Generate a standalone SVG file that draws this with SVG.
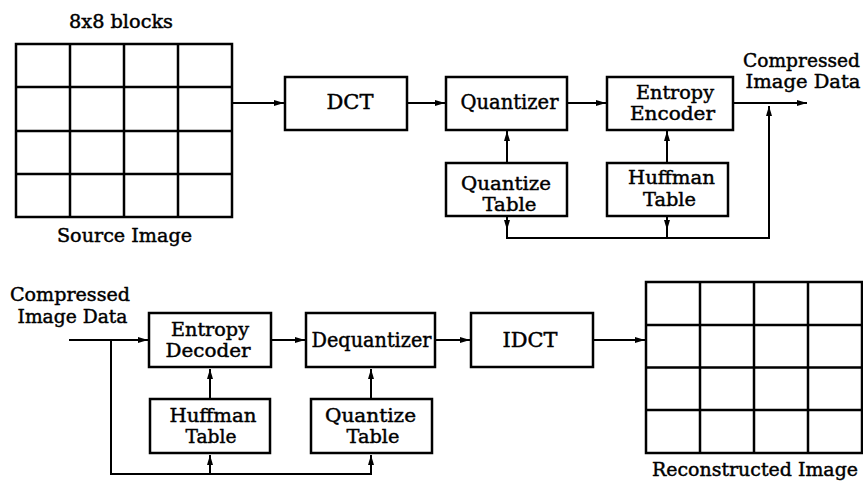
<svg xmlns="http://www.w3.org/2000/svg" width="863" height="481" viewBox="0 0 863 481">
  <style>
    .box { fill: #fff; stroke: #000; stroke-width: 2.5; }
    .grid { fill: none; stroke: #000; stroke-width: 2.5; }
    .wire { fill: none; stroke: #000; stroke-width: 2; }
    .arr { marker-end: url(#head); }
    text { font-family: "DejaVu Serif", "Liberation Serif", serif; font-size: 19px; fill: #000; stroke: #000; stroke-width: 0.45; text-anchor: middle; }
    .big { font-size: 20.5px; }
  </style>
  <defs>
    <marker id="head" markerUnits="userSpaceOnUse" markerWidth="10" markerHeight="6" refX="10" refY="3" orient="auto">
      <path d="M0,0 L10,3 L0,6 z" fill="#000"/>
    </marker>
  </defs>
  <rect width="863" height="481" fill="#fff"/>

  <!-- Compression pipeline -->
  <g id="source-image">
    <rect class="grid" x="16" y="44" width="216" height="173"/>
    <path class="grid" d="M70,44 V217 M124,44 V217 M178,44 V217 M16,87 H232 M16,131 H232 M16,174 H232"/>
    <text x="121" y="28" textLength="104" lengthAdjust="spacingAndGlyphs">8x8 blocks</text>
    <text x="124.5" y="242" textLength="135" lengthAdjust="spacingAndGlyphs">Source Image</text>
  </g>
  <g id="dct">
    <rect class="box" x="285" y="77" width="122" height="53"/>
    <text class="big" x="350" y="109" textLength="47" lengthAdjust="spacingAndGlyphs">DCT</text>
  </g>
  <g id="quantizer">
    <rect class="box" x="446" y="77" width="121" height="53"/>
    <text class="big" x="509.5" y="109" textLength="98" lengthAdjust="spacingAndGlyphs">Quantizer</text>
  </g>
  <g id="entropy-encoder">
    <rect class="box" x="607" y="77" width="126" height="53"/>
    <text x="675" y="99" textLength="78" lengthAdjust="spacingAndGlyphs">Entropy</text>
    <text x="672.5" y="120" textLength="85" lengthAdjust="spacingAndGlyphs">Encoder</text>
  </g>
  <g id="quantize-table-enc">
    <rect class="box" x="446" y="163" width="121" height="53"/>
    <text x="506" y="190" textLength="90" lengthAdjust="spacingAndGlyphs">Quantize</text>
    <text x="509.5" y="210.5" textLength="54" lengthAdjust="spacingAndGlyphs">Table</text>
  </g>
  <g id="huffman-table-enc">
    <rect class="box" x="607" y="163" width="121" height="53"/>
    <text x="671.5" y="184" textLength="87" lengthAdjust="spacingAndGlyphs">Huffman</text>
    <text x="669.5" y="205.5" textLength="53" lengthAdjust="spacingAndGlyphs">Table</text>
  </g>
  <g id="compressed-out">
    <text x="801.5" y="67" textLength="117" lengthAdjust="spacingAndGlyphs">Compressed</text>
    <text x="803" y="88" textLength="115" lengthAdjust="spacingAndGlyphs">Image Data</text>
  </g>

  <!-- Decompression pipeline -->
  <g id="compressed-in">
    <text x="70" y="300.5" textLength="120" lengthAdjust="spacingAndGlyphs">Compressed</text>
    <text x="72.5" y="323" textLength="110" lengthAdjust="spacingAndGlyphs">Image Data</text>
  </g>
  <g id="entropy-decoder">
    <rect class="box" x="149" y="313" width="122" height="54"/>
    <text x="210" y="336" textLength="78" lengthAdjust="spacingAndGlyphs">Entropy</text>
    <text x="208" y="356.5" textLength="85" lengthAdjust="spacingAndGlyphs">Decoder</text>
  </g>
  <g id="dequantizer">
    <rect class="box" x="306" y="313" width="129" height="54"/>
    <text class="big" x="371.5" y="347" textLength="120" lengthAdjust="spacingAndGlyphs">Dequantizer</text>
  </g>
  <g id="idct">
    <rect class="box" x="471" y="313" width="122" height="54"/>
    <text class="big" x="530" y="347" textLength="55" lengthAdjust="spacingAndGlyphs">IDCT</text>
  </g>
  <g id="huffman-table-dec">
    <rect class="box" x="150" y="399" width="120" height="54"/>
    <text x="213" y="421.5" textLength="87" lengthAdjust="spacingAndGlyphs">Huffman</text>
    <text x="211" y="442.5" textLength="51" lengthAdjust="spacingAndGlyphs">Table</text>
  </g>
  <g id="quantize-table-dec">
    <rect class="box" x="311" y="399" width="121" height="54"/>
    <text x="370.5" y="421.5" textLength="91" lengthAdjust="spacingAndGlyphs">Quantize</text>
    <text x="373" y="442.5" textLength="53" lengthAdjust="spacingAndGlyphs">Table</text>
  </g>
  <g id="reconstructed-image">
    <rect class="grid" x="646" y="282" width="216" height="171"/>
    <path class="grid" d="M700,282 V453 M754,282 V453 M808,282 V453 M646,325 H862 M646,367.5 H862 M646,410 H862"/>
    <text x="755" y="476" textLength="206" lengthAdjust="spacingAndGlyphs">Reconstructed Image</text>
  </g>

  <g id="connectors">
    <!-- encoder side -->
    <path class="wire arr" d="M232,103 H284"/>
    <path class="wire arr" d="M407,103 H445"/>
    <path class="wire arr" d="M567,103 H606"/>
    <path class="wire arr" d="M733,103 H807"/>
    <path class="wire arr" d="M507,163 V131"/>
    <path class="wire arr" d="M667,163 V131"/>
    <path class="wire" d="M507,216 V238 H769 V110"/>
    <path class="wire arr" d="M769,120 V106"/>
    <path class="wire" d="M667,216 V238"/>
    <path class="wire arr" d="M507,216 V230"/>
    <path class="wire arr" d="M667,216 V230"/>
    <!-- decoder side -->
    <path class="wire arr" d="M69,340 H148"/>
    <path class="wire" d="M111,340 V474 H371 V460"/>
    <path class="wire arr" d="M371,470 V455"/>
    <path class="wire" d="M210,474 V462"/>
    <path class="wire arr" d="M210,470 V455"/>
    <path class="wire arr" d="M210,399 V369"/>
    <path class="wire arr" d="M371,399 V369"/>
    <path class="wire arr" d="M271,340 H305"/>
    <path class="wire arr" d="M435,340 H470"/>
    <path class="wire arr" d="M593,340 H645"/>
  </g>
</svg>
